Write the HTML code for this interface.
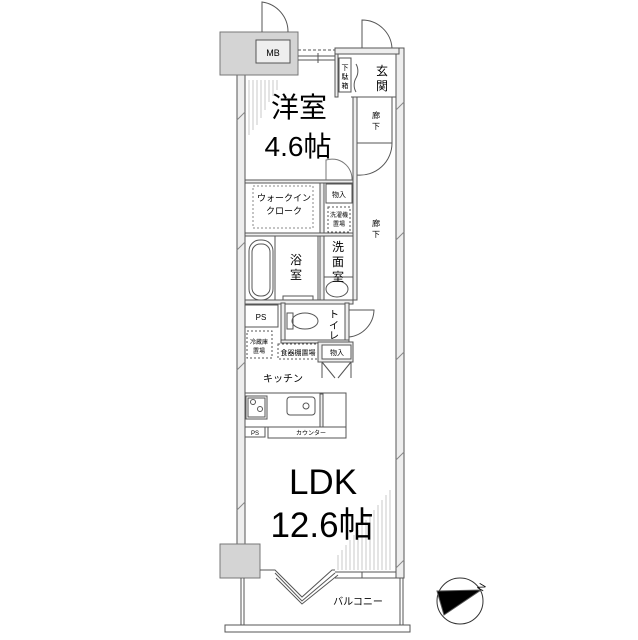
<!DOCTYPE html>
<html><head><meta charset="utf-8"><style>
body{margin:0;background:#fff;}
svg{display:block;font-family:"Liberation Sans","Noto Sans CJK JP",sans-serif;}
</style></head><body>
<svg width="638" height="640" viewBox="0 0 638 640" xmlns="http://www.w3.org/2000/svg">
<g fill="none" stroke="#555" stroke-width="1">
<g stroke="#bbb" stroke-width="0.8">
<line x1="249" y1="80" x2="249" y2="135"/><line x1="253" y1="80" x2="253" y2="130"/><line x1="257" y1="80" x2="257" y2="125"/><line x1="261" y1="80" x2="261" y2="118"/><line x1="265" y1="80" x2="265" y2="110"/><line x1="269" y1="80" x2="269" y2="102"/><line x1="273" y1="80" x2="273" y2="96"/><line x1="277" y1="80" x2="277" y2="90"/>
<line x1="390" y1="490" x2="390" y2="570"/><line x1="386" y1="495" x2="386" y2="570"/><line x1="382" y1="500" x2="382" y2="570"/><line x1="378" y1="505" x2="378" y2="570"/><line x1="374" y1="510" x2="374" y2="570"/><line x1="370" y1="515" x2="370" y2="570"/><line x1="366" y1="520" x2="366" y2="570"/><line x1="362" y1="525" x2="362" y2="570"/><line x1="358" y1="530" x2="358" y2="570"/><line x1="354" y1="535" x2="354" y2="570"/><line x1="350" y1="540" x2="350" y2="570"/><line x1="346" y1="545" x2="346" y2="570"/><line x1="342" y1="550" x2="342" y2="570"/><line x1="338" y1="555" x2="338" y2="570"/>
</g>
<rect x="237" y="74" width="8" height="472" fill="#eee"/>
<rect x="396" y="48" width="8" height="530" fill="#eee"/>
<rect x="335" y="48" width="64" height="6" fill="#eee"/>
<rect x="220" y="32" width="78" height="43" fill="#d4d4d4" stroke="#777"/>
<rect x="256" y="40" width="34" height="23" fill="#eee"/>
<line x1="298" y1="50" x2="335" y2="50" stroke-dasharray="3,2"/>
<line x1="298" y1="56" x2="335" y2="56"/><line x1="298" y1="60" x2="335" y2="60"/>
<line x1="318" y1="53" x2="318" y2="63"/>
<path d="M262 32 V2 A30 30 0 0 1 288 32"/>
<rect x="335" y="54" width="3" height="43" fill="#eee"/>
<rect x="339" y="58" width="12" height="34"/>
<line x1="351" y1="97" x2="396" y2="97"/>
<path d="M362 48 V20 A30 30 0 0 1 392 48"/>
<path d="M356 64 A14 14 0 0 1 356 78" /><path d="M356 78 A14 14 0 0 0 356 92"/>
<rect x="357" y="97" width="35" height="46"/>
<rect x="353" y="97" width="4" height="203" fill="#eee"/>
<path d="M357 143 V175 A32 32 0 0 0 392 143"/>
<rect x="245" y="180" width="108" height="3" fill="#eee"/>
<path d="M326 180 V160 A20 20 0 0 1 352 180" stroke="#777"/>
<rect x="245" y="183" width="75" height="50"/>
<rect x="253" y="186" width="60" height="42" stroke-dasharray="2,2" stroke="#888"/>
<rect x="320" y="183" width="4" height="117" fill="#eee"/>
<rect x="326" y="184" width="26" height="19"/>
<rect x="328" y="207" width="22" height="25" stroke-dasharray="2,2"/>
<rect x="245" y="233" width="108" height="3" fill="#eee"/>
<rect x="245" y="236" width="73" height="66"/>
<rect x="249" y="240" width="24" height="60" rx="11"/>
<rect x="252" y="244" width="18" height="52" rx="8"/>
<line x1="275" y1="236" x2="275" y2="302"/>
<rect x="283" y="296" width="30" height="5"/>
<rect x="324" y="236" width="29" height="64"/>
<line x1="324" y1="277" x2="353" y2="277"/>
<ellipse cx="337" cy="289" rx="11" ry="8"/>
<rect x="245" y="300" width="108" height="4" fill="#eee"/>
<rect x="245" y="305" width="33" height="22"/>
<rect x="283" y="304" width="62" height="36" fill="none"/>
<rect x="281" y="303" width="4" height="40" fill="#eee"/>
<rect x="345" y="303" width="4" height="40" fill="#eee"/>
<rect x="281" y="340" width="68" height="3" fill="#eee"/>
<rect x="287" y="313" width="6" height="16"/>
<ellipse cx="305" cy="321" rx="13" ry="8"/>
<path d="M349 310 H374 A28 28 0 0 1 349 337"/>
<rect x="247" y="331" width="25" height="27" stroke-dasharray="2,2"/>
<rect x="278" y="344" width="40" height="15" stroke-dasharray="2,2"/>
<rect x="318" y="342" width="35" height="20" fill="#eee"/>
<rect x="322" y="345" width="29" height="14" fill="#fff"/>
<path d="M322 362 L335 378 M322 362 V378 M351 362 L338 378 M351 362 V378"/>
<rect x="245" y="393" width="101" height="34"/>
<rect x="246" y="396" width="21" height="23"/>
<rect x="248" y="398" width="17" height="19"/>
<circle cx="253" cy="402" r="2.5"/><circle cx="260" cy="409" r="2.5"/>
<rect x="287" y="397" width="28" height="18" rx="3"/>
<circle cx="306" cy="406" r="3"/>
<rect x="320" y="394" width="3" height="33" fill="#eee"/>
<rect x="245" y="427" width="20" height="10"/>
<rect x="268" y="427" width="78" height="11"/>
<g stroke="#888"><line x1="237" y1="120" x2="245" y2="112"/><line x1="237" y1="250" x2="245" y2="242"/><line x1="237" y1="370" x2="245" y2="362"/><line x1="237" y1="510" x2="245" y2="502"/><line x1="396" y1="110" x2="404" y2="102"/><line x1="396" y1="240" x2="404" y2="232"/><line x1="396" y1="360" x2="404" y2="352"/><line x1="396" y1="460" x2="404" y2="452"/><line x1="396" y1="568" x2="404" y2="560"/></g>
<rect x="220" y="544" width="40" height="34" fill="#d4d4d4" stroke="#777"/>
<path d="M260 570 H275 L302 597 L332 570 H335" />
<path d="M275 573 L302 601 L335 573" />
<path d="M276 578 L302 604 L338 575" />
<line x1="335" y1="572" x2="396" y2="572"/><line x1="335" y1="578" x2="396" y2="578"/>
<line x1="362" y1="572" x2="362" y2="578"/>
<line x1="241" y1="578" x2="241" y2="625"/><line x1="244" y1="578" x2="244" y2="625"/>
<line x1="400" y1="578" x2="400" y2="625"/><line x1="403" y1="578" x2="403" y2="625"/>
<rect x="225" y="625" width="185" height="7"/>
<circle cx="460" cy="601" r="23" stroke="#333"/>
<path d="M437 591 L481 590 L444 615 Z" fill="#000"/>
<text x="478" y="590" font-size="10" fill="#000" stroke="none" transform="rotate(-60 482 587)">N</text>
</g>
<g fill="#000" text-anchor="middle">
<text x="273" y="56" font-size="9">MB</text>
<text x="299" y="117" font-size="28">洋室</text>
<text x="298" y="156" font-size="28">4.6帖</text>
<text x="345" y="70" font-size="7">下</text><text x="345" y="79" font-size="7">駄</text><text x="345" y="88" font-size="7">箱</text>
<text x="382" y="75" font-size="12">玄</text><text x="382" y="90" font-size="12">関</text>
<text x="376" y="118" font-size="8">廊</text><text x="376" y="129" font-size="8">下</text>
<text x="376" y="226" font-size="8">廊</text><text x="376" y="237" font-size="8">下</text>
<text x="284" y="201" font-size="9">ウォークイン</text>
<text x="284" y="214" font-size="9">クローク</text>
<text x="339" y="197" font-size="7">物入</text>
<text x="339" y="217" font-size="6">洗濯機</text><text x="339" y="226" font-size="6">置場</text>
<text x="296" y="264" font-size="12">浴</text><text x="296" y="279" font-size="12">室</text>
<text x="338" y="251" font-size="12">洗</text><text x="338" y="266" font-size="12">面</text><text x="338" y="281" font-size="12">室</text>
<text x="261" y="320" font-size="8">PS</text>
<text x="334" y="318" font-size="10">ト</text><text x="334" y="329" font-size="10">イ</text><text x="334" y="339" font-size="10">レ</text>
<text x="259" y="344" font-size="6">冷蔵庫</text><text x="259" y="353" font-size="6">置場</text>
<text x="298" y="355" font-size="7">食器棚置場</text>
<text x="337" y="355" font-size="7">物入</text>
<text x="283" y="382" font-size="10">キッチン</text>
<text x="255" y="435" font-size="6">PS</text>
<text x="311" y="435" font-size="6">カウンター</text>
<text x="323" y="494" font-size="35">LDK</text>
<text x="322" y="537" font-size="35">12.6帖</text>
<text x="358" y="605" font-size="10">バルコニー</text>
</g>
</svg>
</body></html>
